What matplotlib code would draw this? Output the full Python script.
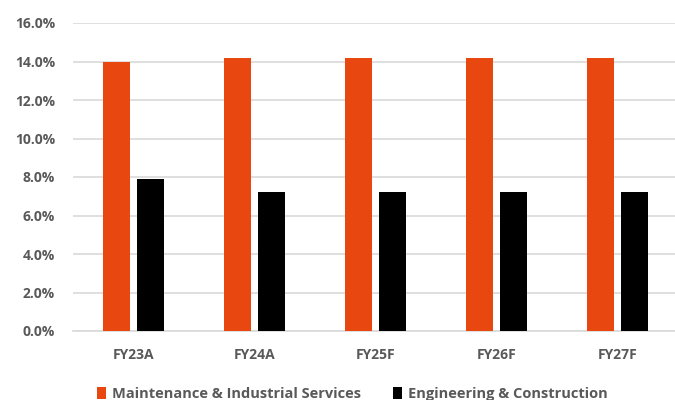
import numpy as np
import matplotlib.pyplot as plt
from matplotlib.ticker import FuncFormatter

categories = ['FY23A', 'FY24A', 'FY25F', 'FY26F', 'FY27F']
mis_values = [14.0, 14.2, 14.2, 14.2, 14.2]
enc_values = [7.9, 7.2, 7.2, 7.2, 7.2]
series_names = ['Maintenance & Industrial Services', 'Engineering & Construction']

plt.rcParams['font.family'] = ['Open Sans', 'DejaVu Sans']

fig = plt.figure(figsize=(6.75, 4), dpi=100)
ax = fig.add_axes([73 / 675, 1 - 331 / 400, 605 / 675, 308 / 400])

x = np.arange(len(categories))
w = 0.225
ax.bar(x - 0.14, mis_values, w, color='#E8480F', label=series_names[0], zorder=3)
ax.bar(x + 0.14, enc_values, w, color='#000000', label=series_names[1], zorder=3)

ax.set_xlim(-0.5, len(categories) - 0.5)
ax.set_ylim(0, 16)
ax.set_yticks(np.arange(0, 16.1, 2))
ax.yaxis.set_major_formatter(FuncFormatter(lambda v, p: f'{v:.1f}%'))
ax.set_xticks(x)
ax.set_xticklabels(categories)

ax.grid(axis='y', color='#D9D9D9', linewidth=1.2, zorder=0)
for s in ['top', 'right', 'left']:
    ax.spines[s].set_visible(False)
ax.spines['bottom'].set_color('#D9D9D9')
ax.spines['bottom'].set_linewidth(1.2)
ax.tick_params(length=0, colors='#595959', labelsize=10)
ax.tick_params(axis='x', pad=12)
ax.tick_params(axis='y', pad=13)
for lbl in ax.get_xticklabels() + ax.get_yticklabels():
    lbl.set_fontweight('bold')

fig.legend(loc='center', bbox_to_anchor=(0.522, 1 - 394 / 400), ncol=2, frameon=False,
           prop={'weight': 'bold', 'size': 10.5}, labelcolor='#595959',
           handlelength=0.6, handleheight=0.8, handletextpad=0.4, columnspacing=2.2)

fig.savefig('out.png', dpi=100)
